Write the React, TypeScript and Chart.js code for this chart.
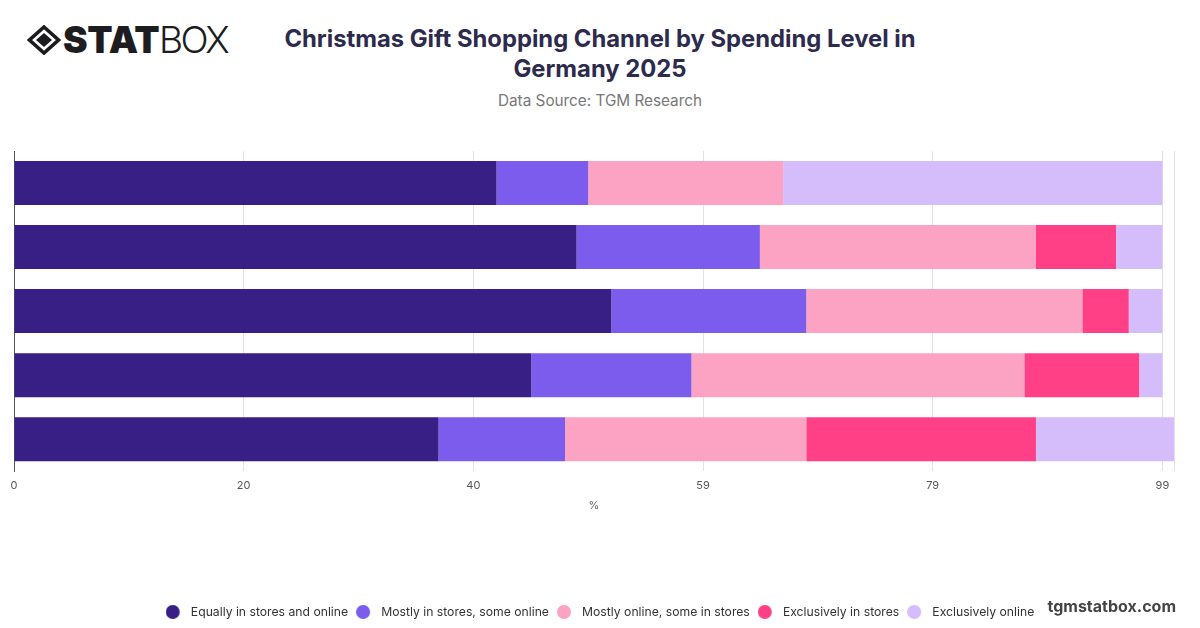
import React, { useEffect, useRef } from 'react';
import { Chart, registerables } from 'chart.js';

Chart.register(...registerables);

// Categories (spending levels; labels are not shown on the reference chart)
const categories = ['Level 1', 'Level 2', 'Level 3', 'Level 4', 'Level 5'];

const seriesNames = [
  'Equally in stores and online',
  'Mostly in stores, some online',
  'Mostly online, some in stores',
  'Exclusively in stores',
  'Exclusively online',
];

const equallyInStoresAndOnline = [41.6, 48.5, 51.5, 44.6, 36.6];
const mostlyInStoresSomeOnline = [7.9, 15.8, 16.8, 13.8, 10.9];
const mostlyOnlineSomeInStores = [16.8, 23.8, 23.8, 28.7, 20.8];
const exclusivelyInStores = [0, 6.9, 4.0, 9.9, 19.8];
const exclusivelyOnline = [32.7, 4.0, 2.9, 2.0, 11.9];

const xTickValues = [0, 19.8, 39.6, 59.4, 79.2, 99, 100];

const seriesColors = ['#371f86', '#7b5ced', '#fca2c2', '#ff3f86', '#d5bcfa'];

const FONT = 'Inter, "Noto Sans", "DejaVu Sans", sans-serif';

function makeLegendDot(color: string): HTMLCanvasElement {
  const c = document.createElement('canvas');
  c.width = 19;
  c.height = 14;
  const ctx = c.getContext('2d') as CanvasRenderingContext2D;
  ctx.fillStyle = color;
  ctx.beginPath();
  ctx.arc(7, 7, 7, 0, Math.PI * 2);
  ctx.fill();
  return c;
}

function Logo() {
  return (
    <div style={{ position: 'absolute', left: 27, top: 22, height: 36, display: 'flex', alignItems: 'center' }}>
      <svg width="34" height="30" viewBox="0 0 34 30" style={{ marginRight: 2 }}>
        <polygon points="17,2 31.5,15 17,28 2.5,15" fill="none" stroke="#1d1d1f" strokeWidth="3.6" strokeLinejoin="miter" />
        <polygon points="17,8 25,15 17,22 9,15" fill="#1d1d1f" />
      </svg>
      <span style={{ fontFamily: FONT, fontWeight: 900, fontSize: 37, color: '#1d1d1f', letterSpacing: -0.5, lineHeight: '36px' }}>STAT</span>
      <span style={{ fontFamily: FONT, fontWeight: 300, fontSize: 37, color: '#1d1d1f', letterSpacing: -2.5, lineHeight: '36px' }}>BOX</span>
    </div>
  );
}

export default function App() {
  const canvasRef = useRef<HTMLCanvasElement>(null);

  useEffect(() => {
    document.body.style.margin = '0';
    const allSeries = [
      equallyInStoresAndOnline,
      mostlyInStoresSomeOnline,
      mostlyOnlineSomeInStores,
      exclusivelyInStores,
      exclusivelyOnline,
    ];
    const dots = seriesColors.map(makeLegendDot);
    const defaultGen = (Chart.defaults.plugins.legend.labels as any).generateLabels;
    const chart = new Chart(canvasRef.current as HTMLCanvasElement, {
      type: 'bar',
      data: {
        labels: categories,
        datasets: allSeries.map((data, i) => ({
          label: seriesNames[i],
          data,
          backgroundColor: seriesColors[i],
          borderWidth: 0,
          barPercentage: 1,
          categoryPercentage: 0.6875,
        })),
      },
      options: {
        indexAxis: 'y',
        responsive: false,
        maintainAspectRatio: false,
        animation: false,
        layout: { padding: { left: 14, right: 14, top: 11, bottom: 0 } },
        plugins: {
          tooltip: { enabled: false },
          title: { display: false },
          legend: {
            position: 'bottom',
            title: {
              display: true,
              text: ' ',
              font: { size: 1 },
              padding: { top: 0, bottom: 84 },
            },
            labels: {
              usePointStyle: true,
              pointStyleWidth: 19,
              boxHeight: 10,
              padding: 8,
              color: '#333333',
              font: { family: FONT, size: 12.2 },
              generateLabels: (ch: any) =>
                defaultGen(ch).map((item: any, i: number) => ({ ...item, pointStyle: dots[i] })),
            },
          },
        },
        scales: {
          x: {
            stacked: true,
            min: 0,
            max: 100,
            afterBuildTicks: (scale: any) => {
              scale.ticks = xTickValues.map((v) => ({ value: v }));
            },
            ticks: {
              autoSkip: false,
              maxRotation: 0,
              padding: 8,
              color: '#555555',
              font: { family: FONT, size: 11 },
              callback: (v: any) => (Number(v) === 100 ? '' : String(Math.round(Number(v)))),
            },
            grid: { color: '#e2e2e2', drawTicks: false },
            border: { display: false },
            title: {
              display: true,
              text: '%',
              color: '#666666',
              font: { family: FONT, size: 11 },
              padding: { top: -1, bottom: 0 },
            },
          },
          y: {
            stacked: true,
            ticks: { display: false },
            grid: { display: false },
            border: { display: true, color: '#555555', width: 1 },
            afterFit: (scale: any) => {
              scale.width = 0;
            },
          },
          yRight: {
            type: 'category',
            labels: categories,
            position: 'right',
            ticks: { display: false },
            grid: { display: false },
            border: { display: false },
            afterFit: (scale: any) => {
              scale.width = 12;
            },
          },
        },
      },
    });
    return () => chart.destroy();
  }, []);

  return (
    <div style={{ position: 'relative', width: 1200, height: 628, background: '#ffffff', overflow: 'hidden' }}>
      <Logo />
      <div
        style={{
          position: 'absolute',
          left: 0,
          top: 24,
          width: 1200,
          textAlign: 'center',
          fontFamily: FONT,
          fontWeight: 700,
          fontSize: 23.8,
          lineHeight: '30px',
          color: '#2d2b4d',
        }}
      >
        Christmas Gift Shopping Channel by Spending Level in
        <br />
        Germany 2025
      </div>
      <div
        style={{
          position: 'absolute',
          left: 0,
          top: 91,
          width: 1200,
          textAlign: 'center',
          fontFamily: FONT,
          fontSize: 15.3,
          color: '#777777',
        }}
      >
        Data Source: TGM Research
      </div>
      <canvas
        ref={canvasRef}
        width={1200}
        height={488}
        style={{ position: 'absolute', left: 0, top: 140, width: 1200, height: 488 }}
      />
      <div
        style={{
          position: 'absolute',
          right: 24,
          top: 596,
          fontFamily: FONT,
          fontWeight: 700,
          fontSize: 16,
          color: '#444444',
        }}
      >
        tgmstatbox.com
      </div>
    </div>
  );
}
